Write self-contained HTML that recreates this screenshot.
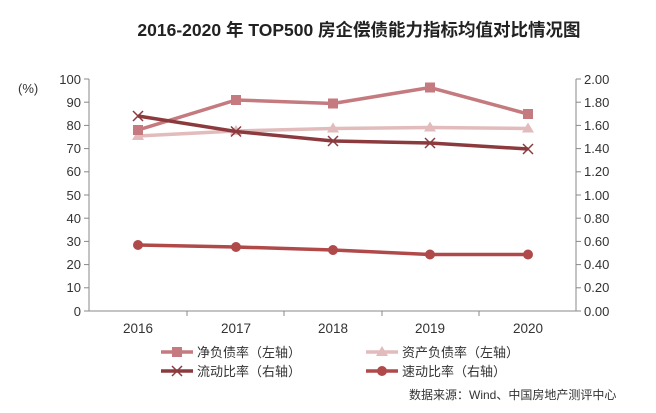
<!DOCTYPE html>
<html><head><meta charset="utf-8"><style>
html,body{margin:0;padding:0;background:#fff;}
svg{display:block;font-family:"Liberation Sans","Noto Sans CJK SC",sans-serif;}
</style></head><body>
<svg width="656" height="413" viewBox="0 0 656 413">
<text x="359" y="36" font-size="17.5" font-weight="bold" text-anchor="middle" fill="#222">2016-2020 年 TOP500 房企偿债能力指标均值对比情况图</text>
<text x="18" y="93" font-size="13" fill="#333">(%)</text>
<g stroke="#888" stroke-width="1">
<line x1="89" y1="79" x2="89" y2="311"/>
<line x1="576" y1="79" x2="576" y2="311"/>
<line x1="89" y1="311" x2="576" y2="311"/>
<line x1="84" y1="79" x2="89" y2="79"/><line x1="84" y1="102.2" x2="89" y2="102.2"/><line x1="84" y1="125.4" x2="89" y2="125.4"/><line x1="84" y1="148.6" x2="89" y2="148.6"/><line x1="84" y1="171.8" x2="89" y2="171.8"/><line x1="84" y1="195" x2="89" y2="195"/><line x1="84" y1="218.2" x2="89" y2="218.2"/><line x1="84" y1="241.4" x2="89" y2="241.4"/><line x1="84" y1="264.6" x2="89" y2="264.6"/><line x1="84" y1="287.8" x2="89" y2="287.8"/><line x1="84" y1="311" x2="89" y2="311"/>
<line x1="576" y1="79" x2="581" y2="79"/><line x1="576" y1="102.2" x2="581" y2="102.2"/><line x1="576" y1="125.4" x2="581" y2="125.4"/><line x1="576" y1="148.6" x2="581" y2="148.6"/><line x1="576" y1="171.8" x2="581" y2="171.8"/><line x1="576" y1="195" x2="581" y2="195"/><line x1="576" y1="218.2" x2="581" y2="218.2"/><line x1="576" y1="241.4" x2="581" y2="241.4"/><line x1="576" y1="264.6" x2="581" y2="264.6"/><line x1="576" y1="287.8" x2="581" y2="287.8"/><line x1="576" y1="311" x2="581" y2="311"/>
<line x1="187" y1="311" x2="187" y2="316"/><line x1="284" y1="311" x2="284" y2="316"/><line x1="382" y1="311" x2="382" y2="316"/><line x1="479" y1="311" x2="479" y2="316"/>
</g>
<g font-size="13" fill="#333" text-anchor="end">
<text x="81" y="84">100</text><text x="81" y="107">90</text><text x="81" y="130">80</text><text x="81" y="153">70</text><text x="81" y="176">60</text><text x="81" y="200">50</text><text x="81" y="223">40</text><text x="81" y="246">30</text><text x="81" y="269">20</text><text x="81" y="292">10</text><text x="81" y="316">0</text>
</g>
<g font-size="13" fill="#333">
<text x="584" y="84">2.00</text><text x="584" y="107">1.80</text><text x="584" y="130">1.60</text><text x="584" y="153">1.40</text><text x="584" y="176">1.20</text><text x="584" y="200">1.00</text><text x="584" y="223">0.80</text><text x="584" y="246">0.60</text><text x="584" y="269">0.40</text><text x="584" y="292">0.20</text><text x="584" y="316">0.00</text>
</g>
<g font-size="13.5" fill="#333" text-anchor="middle">
<text x="138" y="333">2016</text><text x="236" y="333">2017</text><text x="333" y="333">2018</text><text x="430" y="333">2019</text><text x="528" y="333">2020</text>
</g>
<polyline fill="none" stroke="#e2bcbc" stroke-width="3.5" points="138,136 236,131 333,128.5 430,127.5 528,128.5"/>
<g fill="#e2bcbc"><path d="M138,130 l6,10 h-12z"/><path d="M236,125 l6,10 h-12z"/><path d="M333,122.5 l6,10 h-12z"/><path d="M430,121.5 l6,10 h-12z"/><path d="M528,122.5 l6,10 h-12z"/></g>
<polyline fill="none" stroke="#c47a7e" stroke-width="3.5" points="138,130 236,100 333,103.5 430,87.5 528,114"/>
<g fill="#c47a7e"><rect x="133" y="125" width="10" height="10"/><rect x="231" y="95" width="10" height="10"/><rect x="328" y="98.5" width="10" height="10"/><rect x="425" y="82.5" width="10" height="10"/><rect x="523" y="109" width="10" height="10"/></g>
<polyline fill="none" stroke="#8b3a3e" stroke-width="3.5" points="138,116 236,131.5 333,141 430,143 528,149"/>
<g stroke="#8b3a3e" stroke-width="1.5"><path d="M133,111l10,10M143,111l-10,10"/><path d="M231,126.5l10,10M241,126.5l-10,10"/><path d="M328,136l10,10M338,136l-10,10"/><path d="M425,138l10,10M435,138l-10,10"/><path d="M523,144l10,10M533,144l-10,10"/></g>
<polyline fill="none" stroke="#b04a4a" stroke-width="3.5" points="138,245 236,247 333,250 430,254.5 528,254.5"/>
<g fill="#b04a4a"><circle cx="138" cy="245" r="5"/><circle cx="236" cy="247" r="5"/><circle cx="333" cy="250" r="5"/><circle cx="430" cy="254.5" r="5"/><circle cx="528" cy="254.5" r="5"/></g>
<g font-size="13" fill="#333">
<line x1="161" y1="352" x2="193" y2="352" stroke="#c47a7e" stroke-width="3.5"/><rect x="172" y="347" width="10" height="10" fill="#c47a7e"/>
<text x="197" y="357">净负债率（左轴）</text>
<line x1="366" y1="352" x2="398" y2="352" stroke="#e2bcbc" stroke-width="3.5"/><path d="M382,346 l6,10 h-12z" fill="#e2bcbc"/>
<text x="402" y="357">资产负债率（左轴）</text>
<line x1="161" y1="371" x2="193" y2="371" stroke="#8b3a3e" stroke-width="3.5"/><path d="M172,366l10,10M182,366l-10,10" stroke="#8b3a3e" stroke-width="1.5"/>
<text x="197" y="376">流动比率（右轴）</text>
<line x1="366" y1="371" x2="398" y2="371" stroke="#b04a4a" stroke-width="3.5"/><circle cx="382" cy="371" r="5" fill="#b04a4a"/>
<text x="402" y="376">速动比率（右轴）</text>
<text x="409" y="399" font-size="12">数据来源：Wind、中国房地产测评中心</text>
</g>
</svg>
</body></html>
